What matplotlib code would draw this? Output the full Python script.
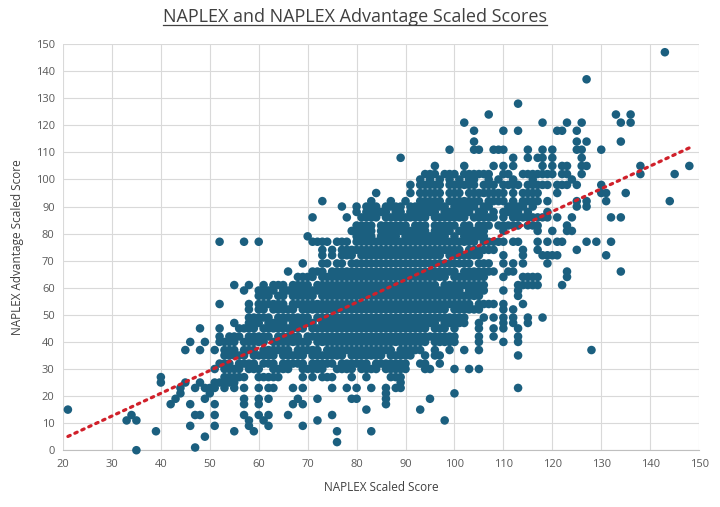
import numpy as np
import matplotlib
matplotlib.use("Agg")
import matplotlib.pyplot as plt
from matplotlib.lines import Line2D

# each row: NAPLEX Advantage scaled score, NAPLEX scaled scores of the dots on that row
top_rows = [
    (147, [143]),
    (137, [127]),
    (128, [113]),
    (124, [107, 133, 136]),
    (121, [102, 118, 123, 126, 134, 136]),
    (118, [104, 110, 113, 121, 122, 125]),
    (114, [104, 125, 127, 134]),
    (111, [99, 104, 105, 108, 109, 110, 115, 118, 120, 125, 126, 130]),
    (108, [89, 112, 115, 117, 118, 120, 126]),
    (105, [96, 102, 108, 110, 112, 118, 120, 122, 123, 126, 127, 138, 148]),
    (102, [94, 95, 96, 98, 99, 100, 102, 103, 104, 105, 106, 107, 110, 111, 114, 115,
           116, 117, 118, 119, 120, 122, 123, 126, 138, 145]),
    (100, [93, 95, 97, 99, 101, 103, 104, 107, 109, 112, 116, 124]),
    (98, [91, 93, 94, 95, 96, 97, 99, 100, 101, 102, 103, 104, 106, 107, 108, 110,
          111, 112, 113, 115, 116, 117, 118, 119, 121, 122, 123, 125, 130]),
    (95, [84, 91, 93, 94, 95, 96, 97, 99, 100, 101, 103, 104, 105, 106, 107, 108,
          109, 110, 112, 114, 115, 116, 117, 121, 130, 131, 135]),
    (92, [73, 83, 87, 90, 93, 94, 95, 96, 97, 99, 100, 101, 102, 103, 104, 105, 107,
          108, 109, 110, 112, 114, 115, 116, 117, 119, 125, 127, 131, 144]),
    (90, [77, 80, 82, 83, 84, 86, 87, 88, 89, 91, 92, 93, 94, 95, 96, 97, 98,
          100, 101, 102, 103, 104, 106, 107, 111, 112, 113, 114, 116, 125, 127]),
    (88, [80, 82, 83, 84, 85, 86, 88, 89, 91, 92, 93, 94, 95, 96, 98, 99, 100,
          101, 102, 103, 105, 106, 108, 110, 111, 112, 113, 115, 119]),
    (86, [71, 78, 81, 82, 83, 84, 86, 87, 88, 89, 90, 91, 92, 93, 94, 96, 97,
          98, 99, 100, 101, 102, 104, 105, 106, 107, 108, 110, 112, 113, 114,
          115, 116, 117, 118, 119, 121, 124, 132, 134]),
]

core_rows = [
    (83, [80, 81, 82, 83, 85, 86, 87, 88, 89, 90, 92, 93, 94, 96, 97, 98, 99, 100,
          102, 103, 105, 106, 107, 109, 110, 111, 112, 113, 115, 116, 117, 123]),
    (81, [79, 80, 81, 82, 83, 85, 86, 87, 88, 89, 90, 91, 92, 93, 94, 96, 97, 98, 99,
          101, 102, 103, 104, 105, 106, 110, 117, 120, 123, 124]),
    (79, [70, 80, 81, 82, 83, 85, 86, 87, 88, 90, 91, 92, 93, 94, 95, 96, 97, 98,
          100, 102, 103, 104, 105, 106]),
    (77, [52, 57, 60, 71, 72, 73, 74, 76, 77, 78, 80, 81, 82, 83, 84, 85, 86, 87,
          88, 89, 90, 91, 92, 93, 94, 95, 96, 97, 98, 99, 100, 101, 102, 103, 104,
          106, 107, 108, 109, 110, 112, 113, 117, 119, 121, 122, 127, 129, 132]),
    (74, [73, 75, 77, 78, 79, 80, 81, 82, 83, 84, 85, 86, 87, 88, 89, 90, 91, 92,
          93, 94, 95, 96, 97, 98, 99, 100, 101, 103, 104, 105, 106, 107, 108, 114,
          117, 125]),
    (72, [73, 75, 77, 78, 79, 81, 82, 83, 84, 85, 86, 87, 88, 89, 90, 91, 92, 93,
          94, 95, 96, 97, 99, 100, 101, 102, 103, 104, 105, 110, 114, 118, 119, 120,
          121, 131]),
    (69, [69, 73, 74, 76, 77, 79, 80, 81, 82, 83, 84, 85, 86, 87, 88, 89, 90, 91,
          92, 93, 94, 95, 96, 97, 98, 99, 100, 101, 102, 103, 105, 106, 107, 110,
          112, 114, 119]),
    (66, [66, 71, 72, 73, 75, 76, 77, 78, 79, 80, 81, 82, 83, 84, 85, 86, 87, 88,
          89, 90, 91, 92, 93, 94, 95, 96, 97, 98, 99, 100, 102, 103, 104, 105, 106,
          107, 108, 111, 112, 123, 134]),
    (64, [68, 69, 70, 71, 73, 74, 75, 76, 77, 78, 79, 80, 81, 82, 83, 84, 85, 86,
          87, 88, 89, 90, 91, 92, 93, 94, 95, 96, 97, 98, 100, 101, 102, 103, 104,
          105, 106, 110, 114, 115, 116, 117, 123]),
    (61, [55, 58, 61, 63, 64, 65, 67, 68, 69, 70, 72, 73, 74, 75, 76, 77, 78, 79,
          80, 81, 82, 83, 84, 85, 86, 87, 88, 89, 90, 91, 92, 93, 94, 95, 96, 98,
          99, 100, 101, 102, 103, 104, 105, 106, 113, 114, 115, 116, 117, 122]),
    (59, [57, 60, 61, 62, 63, 65, 66, 67, 68, 69, 70, 71, 72, 73, 74, 75, 76, 77,
          78, 79, 80, 81, 82, 83, 84, 85, 86, 87, 88, 89, 90, 91, 92, 93, 94, 95,
          96, 97, 98, 99, 100, 101, 103, 104, 105, 106, 110, 113]),
    (57, [60, 61, 62, 64, 65, 67, 68, 69, 70, 71, 73, 74, 75, 76, 77, 78, 79,
          80, 81, 82, 83, 84, 85, 86, 87, 88, 89, 90, 91, 92, 93, 94, 95, 96, 97,
          98, 99, 100, 101, 102, 103, 104, 105, 113]),
    (54, [52, 58, 60, 61, 62, 63, 64, 65, 67, 68, 69, 70, 71, 72, 73, 74, 75, 76,
          77, 78, 79, 80, 81, 82, 83, 84, 85, 86, 87, 88, 89, 90, 91, 92, 93, 94,
          95, 96, 97, 98, 99, 100, 101, 102, 103, 105, 106, 107, 108, 110, 114]),
    (52, [58, 60, 61, 63, 64, 65, 66, 67, 69, 70, 71, 72, 73, 74, 75, 76, 77,
          78, 79, 80, 81, 82, 83, 84, 85, 86, 87, 88, 89, 90, 91, 92, 93, 94, 95,
          96, 97, 98, 100, 101, 102, 103, 104, 105, 110, 112]),
    (49, [58, 59, 60, 61, 62, 64, 65, 66, 67, 68, 69, 70, 72, 73, 74, 75, 76,
          77, 78, 79, 80, 81, 82, 83, 84, 85, 86, 87, 88, 89, 90, 91, 92, 93, 94,
          95, 96, 97, 98, 99, 100, 101, 102, 106, 108, 110, 112, 115, 118]),
    (47, [55, 58, 59, 60, 62, 63, 64, 65, 67, 68, 69, 70, 71, 73, 74, 75,
          76, 77, 78, 79, 80, 81, 82, 83, 84, 85, 86, 87, 88, 89, 90, 91, 92, 93,
          94, 95, 96, 98, 99, 100, 101, 102, 105, 110, 112, 115]),
    (45, [48, 52, 56, 57, 58, 59, 61, 62, 63, 64, 65, 66, 67, 68, 69, 71, 72,
          73, 74, 75, 76, 77, 78, 79, 80, 81, 82, 83, 84, 85, 86, 87, 88, 89, 90,
          91, 92, 93, 94, 96, 97, 98, 100, 105, 108, 110, 113]),
    (42, [52, 54, 55, 56, 58, 59, 60, 61, 62, 64, 65, 66, 67, 68, 70, 71,
          72, 73, 74, 75, 76, 77, 78, 79, 80, 81, 82, 83, 84, 85, 86, 87, 88, 89,
          90, 91, 92, 93, 94, 95, 96, 97, 98, 99, 100, 105, 108, 113]),
    (40, [46, 49, 52, 53, 54, 55, 57, 58, 59, 60, 61, 63, 64, 65, 66, 67, 68,
          69, 70, 72, 73, 74, 75, 76, 77, 78, 79, 80, 81, 82, 83, 84, 85, 86, 87,
          88, 89, 90, 91, 92, 93, 94, 96, 97, 98, 99, 100, 105, 110, 113]),
    (37, [45, 48, 51, 53, 54, 55, 57, 58, 59, 61, 62, 63, 64, 65, 66, 68,
          69, 70, 71, 72, 74, 75, 76, 77, 78, 79, 80, 81, 82, 83, 84, 85, 86, 87,
          89, 90, 91, 92, 93, 96, 99, 102, 105, 128]),
    (35, [53, 54, 55, 56, 57, 59, 60, 61, 62, 63, 65, 66, 67, 68, 69, 71,
          72, 73, 74, 75, 76, 77, 79, 80, 81, 82, 83, 84, 85, 87, 88, 89, 90, 91,
          94, 96, 97, 113]),
    (32, [52, 53, 54, 56, 57, 58, 59, 61, 62, 63, 65, 66, 67, 68, 69, 71,
          72, 73, 74, 75, 77, 78, 79, 80, 81, 82, 84, 85, 86, 87, 88, 89, 90, 93,
          94, 97]),
    (30, [51, 53, 54, 55, 56, 58, 59, 60, 63, 64, 65, 66, 69, 70, 71, 72, 73, 76,
          77, 78, 79, 81, 82, 83, 84, 86, 87, 88, 89, 90, 94, 95, 100, 103, 105]),
]

bottom_rows = [
    (27, [40, 53, 54, 55, 56, 57, 60, 61, 62, 63, 64, 69, 71, 73, 74, 75, 79, 82, 87,
          88, 89]),
    (25, [40, 45, 48, 51, 52, 53, 54, 55, 89]),
    (23, [44, 47, 49, 50, 51, 53, 55, 57, 60, 62, 63, 67, 69, 75, 78, 80, 83, 86, 88,
          89, 113]),
    (21, [44, 50, 86, 100]),
    (19, [43, 49, 57, 60, 62, 68, 72, 79, 80, 86, 95]),
    (17, [42, 46, 51, 57, 60, 67, 69, 86]),
    (15, [21, 82, 93]),
    (13, [34, 47, 48, 51, 57, 60, 62, 66, 75]),
    (11, [33, 35, 58, 61, 72, 98]),
    (9, [46, 51, 58, 62, 69]),
    (7, [39, 55, 59, 76, 83]),
    (5, [49]),
    (3, [76]),
    (1, [47]),
    (0, [35]),
]

x_ticks = list(range(20, 151, 10))
y_ticks = list(range(0, 151, 10))

naplex = []
advantage = []
for score, row in top_rows + core_rows + bottom_rows:
    naplex += row
    advantage += [score] * len(row)
naplex = np.array(naplex, dtype=float)
advantage = np.array(advantage, dtype=float)

plt.rcParams['font.family'] = ['Open Sans', 'DejaVu Sans']

fig = plt.figure(figsize=(7.2, 5.07), dpi=100)
ax = fig.add_axes([0.0875, 0.112, 0.8835, 0.801])

ax.scatter(naplex, advantage, s=38, color='#1b5f7f', edgecolors='none', zorder=3,
           clip_on=False)

# linear trendline, like the one Excel adds
slope, intercept = np.polyfit(naplex, advantage, 1)
line_x = np.array([naplex.min(), naplex.max()])
ax.plot(line_x, slope * line_x + intercept, color='#d0202a', linewidth=2.3,
        linestyle=(0, (0.8, 1.6)), dash_capstyle='round', zorder=4)

ax.set_xlim(20, 150)
ax.set_ylim(0, 150)
ax.set_xticks(x_ticks)
ax.set_yticks(y_ticks)
ax.grid(True, color='#d9d9d9', linewidth=0.8, zorder=0)
ax.set_axisbelow(True)
for side in ['top', 'right', 'left']:
    ax.spines[side].set_visible(False)
ax.spines['bottom'].set_color('#bfbfbf')
ax.tick_params(length=0, labelsize=8, labelcolor='#595959', pad=6)

ax.set_xlabel('NAPLEX Scaled Score', fontsize=8.5, color='#404040', labelpad=8)
ax.set_ylabel('NAPLEX Advantage Scaled Score', fontsize=8.5, color='#404040', labelpad=8)

title = fig.text(0.493, 0.966, 'NAPLEX and NAPLEX Advantage Scaled Scores',
                 ha='center', va='center', fontsize=13, color='#404040')

# underline the title
renderer = fig.canvas.get_renderer()
box = title.get_window_extent(renderer).transformed(fig.transFigure.inverted())
fig.add_artist(Line2D([box.x0, box.x1], [box.y0 + 0.002, box.y0 + 0.002],
                      transform=fig.transFigure, color='#404040', linewidth=0.9))

fig.savefig('out.png', dpi=100)
